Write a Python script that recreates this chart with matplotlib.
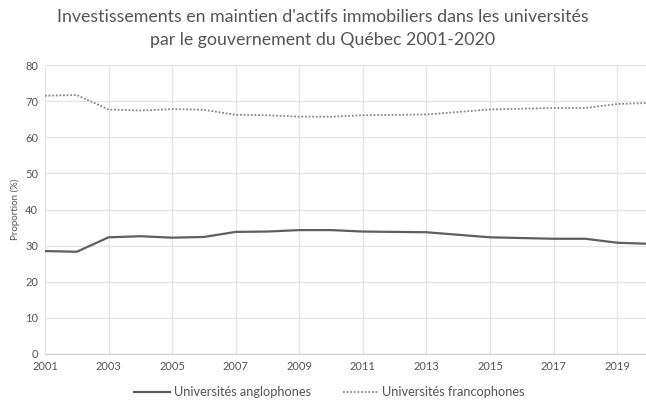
import numpy as np
import matplotlib.pyplot as plt

plt.rcParams['font.family'] = ['Lato', 'DejaVu Sans']

years = list(range(2001, 2021))
anglo = [28.5, 28.3, 32.3, 32.6, 32.2, 32.4, 33.8, 33.9, 34.3, 34.3,
         33.9, 33.8, 33.7, 33.0, 32.3, 32.1, 31.9, 31.9, 30.8, 30.5]
franco = [71.5, 71.7, 67.7, 67.4, 67.8, 67.6, 66.2, 66.1, 65.7, 65.7,
          66.1, 66.2, 66.3, 67.0, 67.7, 67.9, 68.1, 68.1, 69.2, 69.5]
xticks = list(range(2001, 2021, 2))

fig = plt.figure(figsize=(6.46, 4.07), dpi=100)
ax = fig.add_axes([45 / 646, 1 - 354 / 407, (649 - 45) / 646, (354 - 65) / 407])

ax.plot(years, anglo, color='#5f5f5f', lw=1.6, label='Universités anglophones')
ax.plot(years, franco, color='#8a8a8a', lw=1.3, ls=(0, (1, 1)), label='Universités francophones')

ax.set_xlim(2001, 2020)
ax.set_ylim(0, 80)
ax.set_yticks(range(0, 81, 10))
ax.set_xticks(xticks)
ax.grid(True, color='#e6e6e6', lw=1)
ax.set_axisbelow(True)
for s in ['top', 'right', 'left']:
    ax.spines[s].set_visible(False)
ax.spines['bottom'].set_color('#d0d0d0')
ax.tick_params(length=0, labelsize=8, labelcolor='#555555', pad=5)
ax.set_ylabel('Proportion (%)', fontsize=7, color='#555555', labelpad=4)

fig.suptitle("Investissements en maintien d'actifs immobiliers dans les universités\n"
             "par le gouvernement du Québec 2001-2020",
             y=0.978, fontsize=12.8, color='#555555', linespacing=1.55)

fig.legend(loc='center', bbox_to_anchor=(0.51, 1 - 392 / 407), ncol=2, frameon=False,
           fontsize=9.2, labelcolor='#555555', handlelength=2.8, handletextpad=0.3,
           columnspacing=2.5)

fig.savefig('out.png', dpi=100)
